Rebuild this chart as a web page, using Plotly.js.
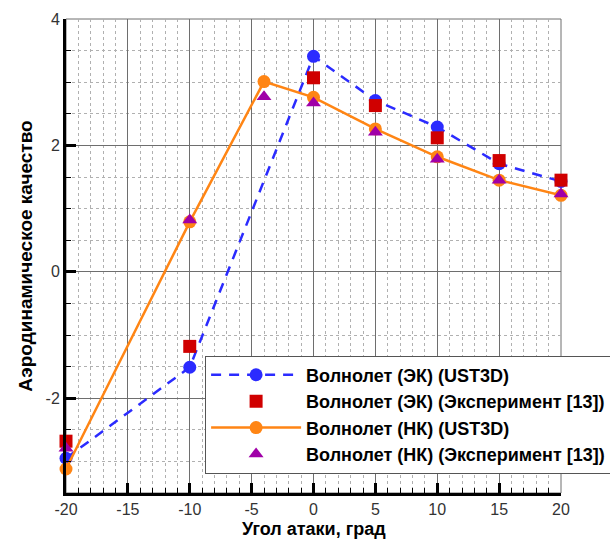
<!DOCTYPE html>
<html>
<head>
<meta charset="utf-8">
<script src="https://cdn.plot.ly/plotly-3.0.1.min.js"></script>
<style>
  html, body { margin: 0; padding: 0; background: #fff; }
  #chart { width: 610px; height: 540px; }
</style>
</head>
<body>
<div id="chart"></div>
<script>
// Angles of attack, degrees
const alphaEK = [-20, -10, 0, 5, 10, 15, 20];
const alphaNK = [-20, -10, -4, 0, 5, 10, 15, 20];

// Lift-to-drag ratio, waverider (ЭК): UST3D computation and experiment [13]
const ekUst3d = [-2.95, -1.51, 3.41, 2.71, 2.29, 1.71, 1.43];
const ekExp   = [-2.68, -1.18, 3.07, 2.63, 2.12, 1.76, 1.45];

// Lift-to-drag ratio, waverider (НК): UST3D computation and experiment [13]
const nkUst3d = [-3.12, 0.79, 3.01, 2.76, 2.26, 1.82, 1.45, 1.21];
const nkExp   = [-2.79, 0.82, 2.77, 2.67, 2.21, 1.78, 1.45, 1.23];

const seriesNames = [
  'Волнолет (ЭК) (UST3D)',
  'Волнолет (ЭК) (Эксперимент [13])',
  'Волнолет (НК) (UST3D)',
  'Волнолет (НК) (Эксперимент [13])'
];

// Tick labels (plain hyphen for negatives)
const xTickVals = [-20, -15, -10, -5, 0, 5, 10, 15, 20];
const xTickText = ['-20', '-15', '-10', '-5', '0', '5', '10', '15', '20'];
const yTickVals = [-2, 0, 2, 4];
const yTickText = ['-2', '0', '2', '4'];

const xTitle = 'Угол атаки, град';
const yTitle = 'Аэродинамическое качество';

const FONT = 'Arial, "Liberation Sans", sans-serif';

const traces = [
  {
    x: alphaEK, y: ekUst3d, name: seriesNames[0], type: 'scatter', mode: 'lines+markers',
    line: { color: '#2b2bff', width: 2.5, dash: '10px,8px' },
    marker: { symbol: 'circle', size: 13, color: '#2b2bff' }, cliponaxis: false
  },
  {
    x: alphaEK, y: ekExp, name: seriesNames[1], type: 'scatter', mode: 'markers',
    marker: { symbol: 'square', size: 13, color: '#d00000' }, cliponaxis: false
  },
  {
    x: alphaNK, y: nkUst3d, name: seriesNames[2], type: 'scatter', mode: 'lines+markers',
    line: { color: '#ff8514', width: 2.5 },
    marker: { symbol: 'circle', size: 13, color: '#ff8514' }, cliponaxis: false
  },
  {
    x: alphaNK, y: nkExp, name: seriesNames[3], type: 'scatter', mode: 'markers',
    marker: { symbol: 'triangle-up', size: 13, color: '#a000a8' }, cliponaxis: false
  }
];

const axisCommon = {
  showline: true, linecolor: '#000', linewidth: 3,
  ticks: 'inside', ticklen: 10, tickwidth: 3, tickcolor: '#000',
  showgrid: true, gridcolor: '#6e6e6e', gridwidth: 1,
  zeroline: false, tickmode: 'array',
  tickfont: { family: FONT, size: 16, color: '#333' },
  layer: 'above traces'
};

const M = { l: 66, r: 49, t: 19, b: 47 };
const plotH = 540 - M.t - M.b;

const layout = {
  width: 610, height: 540,
  margin: Object.assign({ autoexpand: false }, M),
  paper_bgcolor: '#fff', plot_bgcolor: '#fff',
  showlegend: true,
  xaxis: Object.assign({}, axisCommon, {
    range: [-20, 20], tickvals: xTickVals, ticktext: xTickText,
    minor: { dtick: 1, tick0: 0, showgrid: true, gridcolor: '#b0b0b0', griddash: 'dot', gridwidth: 1,
             ticks: 'inside', ticklen: 5, tickwidth: 1, tickcolor: '#000' }
  }),
  yaxis: Object.assign({}, axisCommon, {
    range: [-3.5, 4], tickvals: yTickVals, ticktext: yTickText,
    minor: { dtick: 0.5, tick0: 0, showgrid: true, gridcolor: '#b0b0b0', griddash: 'dot', gridwidth: 1,
             ticks: 'inside', ticklen: 5, tickwidth: 1, tickcolor: '#000' },
    title: { text: '<b>' + yTitle + '</b>', font: { family: FONT, size: 19, color: '#000' }, standoff: 8 }
  }),
  // x-axis title rests on the bottom edge of the figure, under the tick labels
  annotations: [
    { text: '<b>' + xTitle + '</b>', xref: 'paper', yref: 'paper', x: 0.5, y: -M.b / plotH,
      xanchor: 'center', yanchor: 'bottom', showarrow: false, borderpad: 0,
      font: { family: FONT, size: 18, color: '#000' } }
  ],
  shapes: [
    { type: 'rect', xref: 'paper', yref: 'paper', x0: 0, x1: 1, y0: 0, y1: 1,
      line: { color: '#6e6e6e', width: 1 }, layer: 'below' }
  ],
  legend: {
    x: 0.281, y: 0.29, xanchor: 'left', yanchor: 'top',
    bgcolor: '#fff', bordercolor: '#555', borderwidth: 1,
    font: { family: FONT, size: 18, color: '#000', weight: 'bold' },
    tracegroupgap: 0, itemwidth: 90
  }
};

Plotly.newPlot('chart', traces, layout, { displayModeBar: false, staticPlot: true });
</script>
</body>
</html>
